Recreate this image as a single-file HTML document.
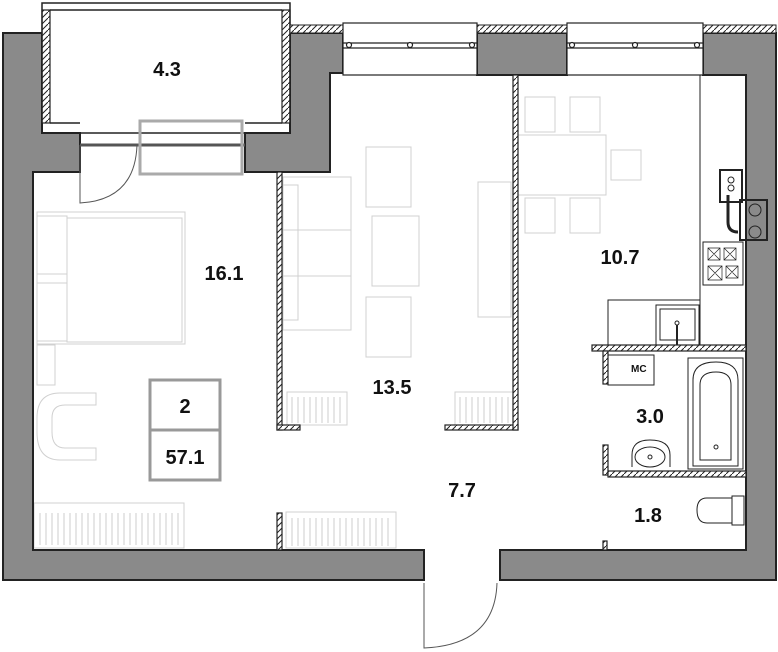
<!DOCTYPE html>
<html><head><meta charset="utf-8"><style>
html,body{margin:0;padding:0;background:#fff}
svg{display:block}
text{font-family:"Liberation Sans",sans-serif;font-weight:bold;fill:#111}
</style></head><body>
<svg width="778" height="652" viewBox="0 0 778 652" xmlns="http://www.w3.org/2000/svg">
<defs>
<pattern id="h" width="6" height="6" patternUnits="userSpaceOnUse"><rect width="6" height="6" fill="#fff"/><path d="M0 6L6 0" stroke="#222" stroke-width="1"/></pattern>
</defs>
<g fill="none" stroke="#d0d0d0" stroke-width="1">
<rect x="37" y="212" width="148" height="132"/><rect x="67" y="218" width="115" height="124"/>
<rect x="37" y="216" width="30" height="58"/><rect x="37" y="283" width="30" height="58"/>
<rect x="37" y="345" width="18" height="40"/>
<path d="M96 393 H60 Q37 393 37 418 V432 Q37 460 60 460 H96 V448 H65 Q52 448 52 432 V418 Q52 405 65 405 H96Z"/>
<rect x="34" y="503" width="150" height="45"/>
<rect x="283" y="177" width="68" height="153"/><rect x="283" y="185" width="15" height="135"/>
<line x1="283" y1="230" x2="351" y2="230"/><line x1="283" y1="276" x2="351" y2="276"/>
<rect x="366" y="147" width="45" height="60"/><rect x="372" y="216" width="47" height="70"/><rect x="366" y="297" width="45" height="60"/>
<rect x="478" y="182" width="33" height="135"/>
<rect x="286" y="512" width="110" height="36"/>
<rect x="287" y="392" width="60" height="33"/><rect x="455" y="392" width="58" height="33"/>
<rect x="518" y="135" width="88" height="60"/><rect x="525" y="97" width="30" height="35"/><rect x="570" y="97" width="30" height="35"/>
<rect x="525" y="198" width="30" height="35"/><rect x="570" y="198" width="30" height="35"/><rect x="611" y="150" width="30" height="30"/>
</g>
<g stroke="#ccc" stroke-width="1">
<path d="M40 513v32M46 513v32M52 513v32M58 513v32M64 513v32M70 513v32M76 513v32M82 513v32M88 513v32M94 513v32M100 513v32M106 513v32M112 513v32M118 513v32M124 513v32M130 513v32M136 513v32M142 513v32M148 513v32M154 513v32M160 513v32M166 513v32M172 513v32M178 513v32"/>
<path d="M292 518v28M298 518v28M304 518v28M310 518v28M316 518v28M322 518v28M328 518v28M334 518v28M340 518v28M346 518v28M352 518v28M358 518v28M364 518v28M370 518v28M376 518v28M382 518v28M388 518v28"/>
<path d="M292 397v26M298 397v26M304 397v26M310 397v26M316 397v26M322 397v26M328 397v26M334 397v26M340 397v26M460 397v26M466 397v26M472 397v26M478 397v26M484 397v26M490 397v26M496 397v26M502 397v26M508 397v26"/>
</g>
<g fill="#8a8a8a" stroke="#222" stroke-width="2">
<path d="M3 33 H42 V133 H80 V172 H33 V550 H424 V580 H3 Z"/>
<path d="M500 550 H746 V75 H703 V33 H776 V580 H500 Z"/>
<path d="M290 33 H343 V73 H330 V172 H245 V133 H290 Z"/>
<rect x="477" y="33" width="90" height="42"/>
</g>
<!-- balcony -->
<rect x="42" y="10" width="8" height="113" fill="url(#h)" stroke="#222" stroke-width="1.2"/>
<rect x="282" y="10" width="8" height="113" fill="url(#h)" stroke="#222" stroke-width="1.2"/>
<g fill="none" stroke="#222" stroke-width="1.5">
<rect x="42" y="3" width="248" height="130"/>
<line x1="50" y1="10" x2="282" y2="10"/>
<line x1="50" y1="123" x2="80" y2="123"/><line x1="245" y1="123" x2="282" y2="123"/>
<line x1="80" y1="145" x2="245" y2="145" stroke-width="3" stroke="#555"/>
<path d="M80 145 V203 Q135 200 137 145" stroke-width="1" stroke="#555"/>
</g>
<rect x="140" y="121" width="102" height="53" fill="none" stroke="#aaa" stroke-width="3"/>
<!-- hatch strips -->
<rect x="290" y="25" width="53" height="8" fill="url(#h)" stroke="#222"/>
<rect x="477" y="25" width="90" height="8" fill="url(#h)" stroke="#222"/>
<rect x="703" y="25" width="73" height="8" fill="url(#h)" stroke="#222"/>
<!-- windows -->
<g fill="#fff" stroke="#222" stroke-width="1.2">
<rect x="343" y="23" width="134" height="52"/><rect x="567" y="23" width="136" height="52"/>
<line x1="343" y1="43" x2="477" y2="43"/><line x1="343" y1="48" x2="477" y2="48"/>
<line x1="567" y1="43" x2="703" y2="43"/><line x1="567" y1="48" x2="703" y2="48"/>
<circle cx="410" cy="45" r="2.5"/><circle cx="635" cy="45" r="2.5"/>
<circle cx="472" cy="45" r="2.5"/><circle cx="572" cy="45" r="2.5"/><circle cx="697" cy="45" r="2.5"/><circle cx="349" cy="45" r="2.5"/>
</g>
<g fill="url(#h)" stroke="#222" stroke-width="1.2">
<rect x="277" y="172" width="5" height="258"/>
<rect x="277" y="425" width="23" height="5"/>
<rect x="445" y="425" width="73" height="5"/>
<rect x="513" y="75" width="5" height="355"/>
<rect x="277" y="513" width="5" height="37"/>
<rect x="592" y="345" width="154" height="6"/>
<rect x="603" y="351" width="5" height="33"/>
<rect x="603" y="445" width="5" height="30"/>
<rect x="608" y="471" width="138" height="6"/>
<rect x="603" y="541" width="4" height="9"/>
</g>
<g fill="none" stroke="#222" stroke-width="1">
<line x1="700" y1="75" x2="700" y2="300"/>
<rect x="608" y="300" width="92" height="45"/>
<rect x="656" y="305" width="43" height="40"/><rect x="660" y="309" width="35" height="31"/>
<circle cx="677" cy="323" r="2"/><line x1="677" y1="325" x2="677" y2="345" stroke-width="2"/>
<rect x="703" y="242" width="40" height="43"/>
<rect x="720" y="170" width="22" height="32" stroke-width="2"/>
<circle cx="731" cy="180" r="3"/><circle cx="731" cy="188" r="3"/>
<rect x="740" y="200" width="27" height="40" stroke-width="2"/>
<circle cx="755" cy="210" r="6"/><circle cx="755" cy="232" r="6"/>
<path d="M728 195 V222 Q728 232 738 232" stroke-width="3"/>
<rect x="608" y="355" width="46" height="30"/>
<rect x="688" y="358" width="55" height="111"/><path d="M693 466 V380 Q693 362 716 362 Q738 362 738 380 V466Z"/>
<path d="M700 460 V385 Q700 372 716 372 Q731 372 731 385 V460Z"/><circle cx="716" cy="447" r="2"/>
<path d="M632 467 V455 Q632 440 650 440 Q670 440 670 455 V467"/><ellipse cx="650" cy="457" rx="15" ry="10"/><circle cx="650" cy="457" r="2"/>
<path d="M732 498 H707 Q697 498 697 510 Q697 523 707 523 H732Z"/><rect x="732" y="496" width="12" height="29"/>
<path d="M424 583 V648 Q495 645 497 583" stroke="#555"/>
</g>
<g fill="none" stroke="#222" stroke-width=".7">
<path d="M708 248h12v12h-12zM708 248l12 12M720 248l-12 12M724 248h12v12h-12zM724 248l12 12M736 248l-12 12M708 266h14v14h-14zM708 266l14 14M722 266l-14 14M726 266h12v12h-12zM726 266l12 12M738 266l-12 12"/>
</g>
<text x="631" y="372" font-size="10" font-weight="normal">MC</text>
<rect x="150" y="380" width="70" height="100" fill="#fff" stroke="#999" stroke-width="3"/>
<line x1="150" y1="430" x2="220" y2="430" stroke="#999" stroke-width="3"/>
<g font-size="20">
<text x="185" y="413" text-anchor="middle">2</text>
<text x="185" y="464" text-anchor="middle">57.1</text>
<text x="167" y="76" text-anchor="middle">4.3</text>
<text x="224" y="280" text-anchor="middle">16.1</text>
<text x="392" y="394" text-anchor="middle">13.5</text>
<text x="620" y="264" text-anchor="middle">10.7</text>
<text x="650" y="423" text-anchor="middle">3.0</text>
<text x="462" y="497" text-anchor="middle">7.7</text>
<text x="648" y="522" text-anchor="middle">1.8</text>
</g>
</svg>
</body></html>
